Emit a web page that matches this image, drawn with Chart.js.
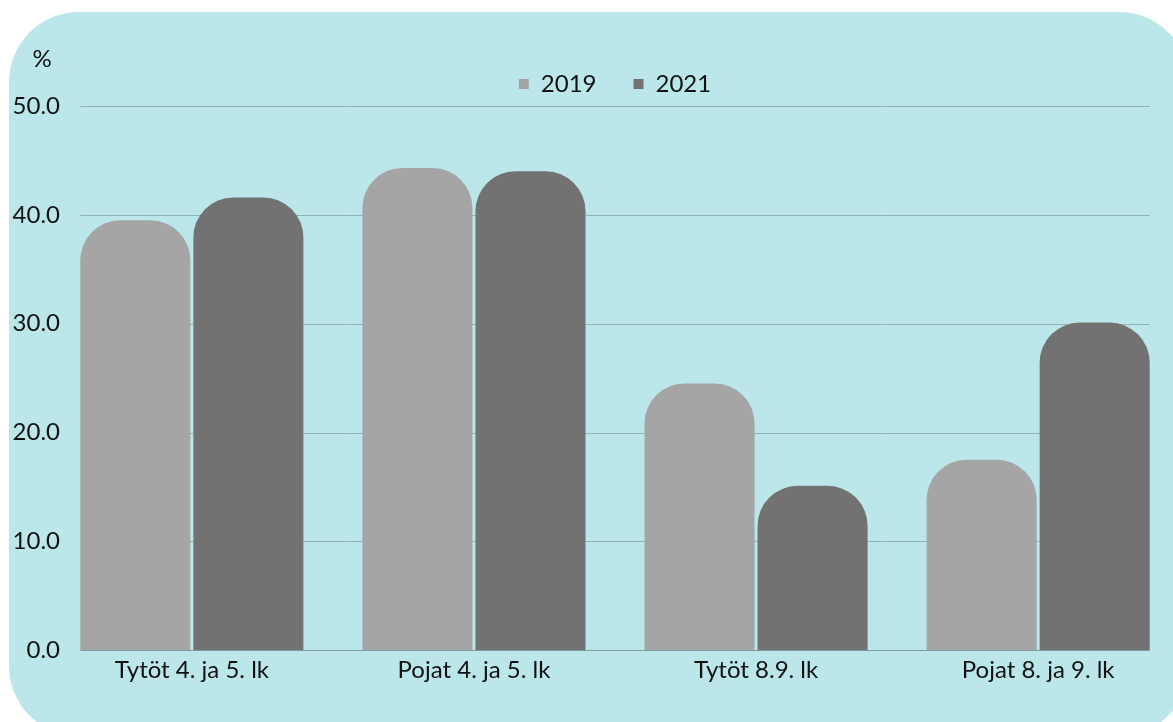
<!DOCTYPE html>
<html>
<head>
<meta charset="utf-8">
<script src="https://cdn.jsdelivr.net/npm/chart.js@4.4.0/dist/chart.umd.min.js"></script>
<style>
  html, body { margin: 0; padding: 0; background: #fff; overflow: hidden; }
  #wrap { width: 1173px; height: 722px; position: relative; }
</style>
</head>
<body>
<div id="wrap"><canvas id="myChart"></canvas></div>
<script>
const categories = ['Tytöt 4. ja 5. lk', 'Pojat 4. ja 5. lk', 'Tytöt 8.9. lk', 'Pojat 8. ja 9. lk'];
const values2019 = [39.5, 44.3, 24.5, 17.5];
const values2021 = [41.6, 44.0, 15.1, 30.1];
const seriesNames = ['2019', '2021'];
const yMin = 0;
const yMax = 50;
const yStep = 10;

const FONT = 'Lato';
const FS = 24;

// rounded panel behind everything
const panelBg = {
    id: 'panelBg',
    beforeDraw(chart) {
        const ctx = chart.ctx;
        ctx.save();
        ctx.fillStyle = '#bce7ea';
        ctx.beginPath();
        ctx.roundRect(9, 12, 1180, 724, 70);
        ctx.fill();
        ctx.restore();
    }
};

// gridlines only as wide as the bars
const shortGrid = {
    id: 'shortGrid',
    beforeDatasetsDraw(chart) {
        const first = chart.getDatasetMeta(0).data[0];
        const lastMeta = chart.getDatasetMeta(chart.data.datasets.length - 1);
        const last = lastMeta.data[lastMeta.data.length - 1];
        const x0 = first.x - first.width / 2;
        const x1 = last.x + last.width / 2;
        const y = chart.scales.y;
        const ctx = chart.ctx;
        ctx.save();
        y.ticks.forEach(t => {
            const py = Math.round(y.getPixelForValue(t.value)) + 0.5;
            ctx.strokeStyle = t.value === 0 ? '#7f9da2' : '#93b2b7';
            ctx.lineWidth = 1;
            ctx.beginPath();
            ctx.moveTo(x0, py);
            ctx.lineTo(x1, py);
            ctx.stroke();
        });
        ctx.restore();
    }
};

const unitLabel = {
    id: 'unitLabel',
    afterDraw(chart) {
        const ctx = chart.ctx;
        ctx.save();
        ctx.font = FS + 'px ' + FONT;
        ctx.fillStyle = '#111';
        ctx.textAlign = 'center';
        ctx.textBaseline = 'middle';
        ctx.fillText('%', chart.chartArea.left - 37, chart.chartArea.top - 47);
        ctx.restore();
    }
};

const topRound = {topLeft: 40, topRight: 40, bottomLeft: 0, bottomRight: 0};
const toPoints = arr => arr.map((v, i) => ({x: i, y: v}));

const data = {
    datasets: [{
        label: seriesNames[0],
        data: toPoints(values2019),
        backgroundColor: '#a5a5a5',
        borderRadius: topRound,
        borderSkipped: false,
        categoryPercentage: 0.8014,
        barPercentage: 0.9735
    }, {
        label: seriesNames[1],
        data: toPoints(values2021),
        backgroundColor: '#727272',
        borderRadius: topRound,
        borderSkipped: false,
        categoryPercentage: 0.8014,
        barPercentage: 0.9735
    }]
};

const config = {
    type: 'bar',
    data: data,
    options: {
        responsive: false,
        animation: false,
        layout: {
            padding: {top: 35, left: 9, right: 22, bottom: 31}
        },
        plugins: {
            legend: {
                position: 'top',
                fullSize: false,
                labels: {
                    boxWidth: 10,
                    boxHeight: 10,
                    padding: 37,
                    color: '#111',
                    font: {family: FONT, size: FS}
                }
            },
            tooltip: {enabled: false}
        },
        scales: {
            x: {
                type: 'linear',
                min: -0.4,
                max: 3.4,
                offset: false,
                grid: {display: false, drawTicks: false},
                border: {display: false},
                ticks: {
                    stepSize: 1,
                    includeBounds: false,
                    color: '#111',
                    font: {family: FONT, size: FS},
                    padding: 6,
                    maxRotation: 0,
                    autoSkip: false,
                    callback: v => (Number.isInteger(v) && categories[v]) ? categories[v] : ''
                }
            },
            y: {
                min: yMin,
                max: yMax,
                grid: {display: false, drawTicks: false},
                border: {display: false},
                afterFit: (scale) => { scale.width = 70; },
                ticks: {
                    stepSize: yStep,
                    color: '#111',
                    font: {family: FONT, size: FS},
                    padding: 19,
                    callback: v => v.toFixed(1)
                }
            }
        }
    },
    plugins: [panelBg, shortGrid, unitLabel]
};

const canvas = document.getElementById('myChart');
canvas.width = 1173;
canvas.height = 722;
const myChart = new Chart(canvas, config);
</script>
</body>
</html>
